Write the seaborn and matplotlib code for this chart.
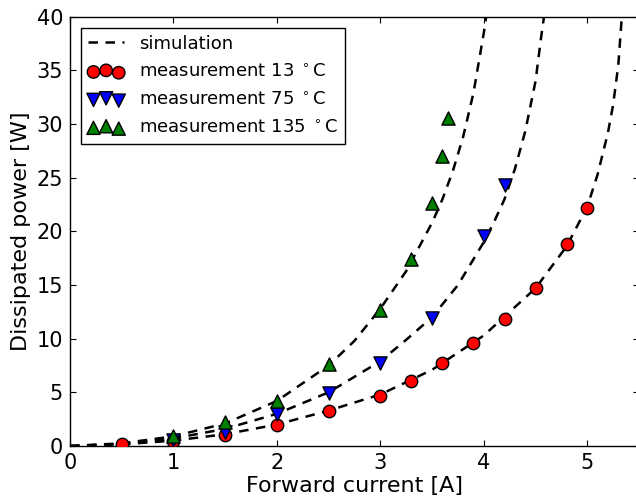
"""Dissipated power vs forward current: simulation curves and measurements."""

import matplotlib

matplotlib.use("Agg")
import matplotlib.pyplot as plt
import seaborn as sns

# simulation curves
sim_13_x = [0.0, 0.5, 1.0, 1.5, 2.0, 2.5, 3.0, 3.5, 4.0, 4.5, 4.8, 5.0, 5.1, 5.2, 5.25, 5.3, 5.33, 5.36]
sim_13_y = [0.0, 0.15, 0.5, 1.1, 2.0, 3.3, 4.8, 7.1, 10.3, 14.7, 18.6, 22.3, 25.3, 29.2, 31.8, 35.5, 39.5, 43.0]

sim_75_x = [0.0, 0.5, 1.0, 1.5, 2.0, 2.5, 3.0, 3.25, 3.5, 3.75, 4.0, 4.1, 4.2, 4.3, 4.4, 4.5, 4.55, 4.58, 4.62]
sim_75_y = [0.0, 0.2, 0.7, 1.6, 3.0, 5.0, 7.9, 9.9, 12.0, 15.0, 19.0, 20.9, 23.0, 25.8, 29.3, 34.0, 37.8, 39.9, 43.0]

sim_135_x = [0.0, 0.5, 1.0, 1.5, 2.0, 2.5, 2.75, 3.0, 3.25, 3.5, 3.6, 3.7, 3.8, 3.9, 4.0, 4.06]
sim_135_y = [0.0, 0.25, 0.9, 2.1, 4.2, 7.5, 9.8, 12.8, 16.3, 20.8, 23.0, 25.6, 28.8, 32.9, 38.5, 42.5]

# measurements
meas_13_x = [0.5, 1.0, 1.5, 2.0, 2.5, 3.0, 3.3, 3.6, 3.9, 4.2, 4.5, 4.8, 5.0]
meas_13_y = [0.2, 0.45, 1.0, 2.0, 3.3, 4.7, 6.1, 7.7, 9.6, 11.8, 14.7, 18.8, 22.2]

meas_75_x = [1.0, 1.5, 2.0, 2.5, 3.0, 3.5, 4.0, 4.2]
meas_75_y = [0.6, 1.35, 3.0, 4.9, 7.7, 11.9, 19.6, 24.3]

meas_135_x = [1.0, 1.5, 2.0, 2.5, 3.0, 3.3, 3.5, 3.6, 3.65]
meas_135_y = [0.9, 2.2, 4.2, 7.6, 12.7, 17.4, 22.6, 27.0, 30.6]

x_ticks = [0, 1, 2, 3, 4, 5]
y_ticks = [0, 5, 10, 15, 20, 25, 30, 35, 40]


def main() -> None:
    sns.set_style("ticks")
    plt.rcParams["font.family"] = ["DejaVu Sans"]
    plt.rcParams["mathtext.fontset"] = "dejavusans"
    plt.rcParams["text.color"] = "black"
    plt.rcParams["axes.labelcolor"] = "black"

    fig = plt.figure(figsize=(6.36, 4.97), dpi=100)
    ax = fig.add_axes([70 / 636, 1 - 446 / 497, 569 / 636, 429.3 / 497])

    for xs, ys, lab in [(sim_13_x, sim_13_y, "simulation"),
                        (sim_75_x, sim_75_y, "_nolegend_"),
                        (sim_135_x, sim_135_y, "_nolegend_")]:
        sns.lineplot(x=xs, y=ys, ax=ax, color="black", linewidth=1.8,
                     sort=False, estimator=None, label=lab)
    for line in ax.lines:
        line.set_linestyle((0, (3.8, 3.0)))

    sns.scatterplot(x=meas_13_x, y=meas_13_y, ax=ax, marker="o", color="#ff0000",
                    edgecolor="black", linewidth=1, s=80, zorder=3,
                    label=r"measurement 13 $^\circ$C")
    sns.scatterplot(x=meas_75_x, y=meas_75_y, ax=ax, marker="v", color="#0000ff",
                    edgecolor="black", linewidth=1, s=90, zorder=3,
                    label=r"measurement 75 $^\circ$C")
    sns.scatterplot(x=meas_135_x, y=meas_135_y, ax=ax, marker="^", color="#008000",
                    edgecolor="black", linewidth=1, s=90, zorder=3,
                    label=r"measurement 135 $^\circ$C")

    ax.set_xlim(0, 5.5)
    ax.set_ylim(0, 40)
    ax.set_xticks(x_ticks)
    ax.set_yticks(y_ticks)
    ax.tick_params(direction="in", length=4, width=0.8, labelsize=15, pad=5,
                   top=True, right=True, colors="black")
    for spine in ax.spines.values():
        spine.set_linewidth(1.0)
        spine.set_color("black")

    ax.set_xlabel("Forward current [A]", fontsize=16, labelpad=2)
    ax.set_ylabel("Dissipated power [W]", fontsize=16, labelpad=4)

    leg = ax.legend(loc="upper left", scatterpoints=3, fontsize=13, fancybox=False,
                    framealpha=1, edgecolor="black", borderaxespad=0.6,
                    labelspacing=0.55)
    leg.get_frame().set_linewidth(1.0)

    fig.savefig("out.png", dpi=100)
    plt.close(fig)


if __name__ == "__main__":
    main()
